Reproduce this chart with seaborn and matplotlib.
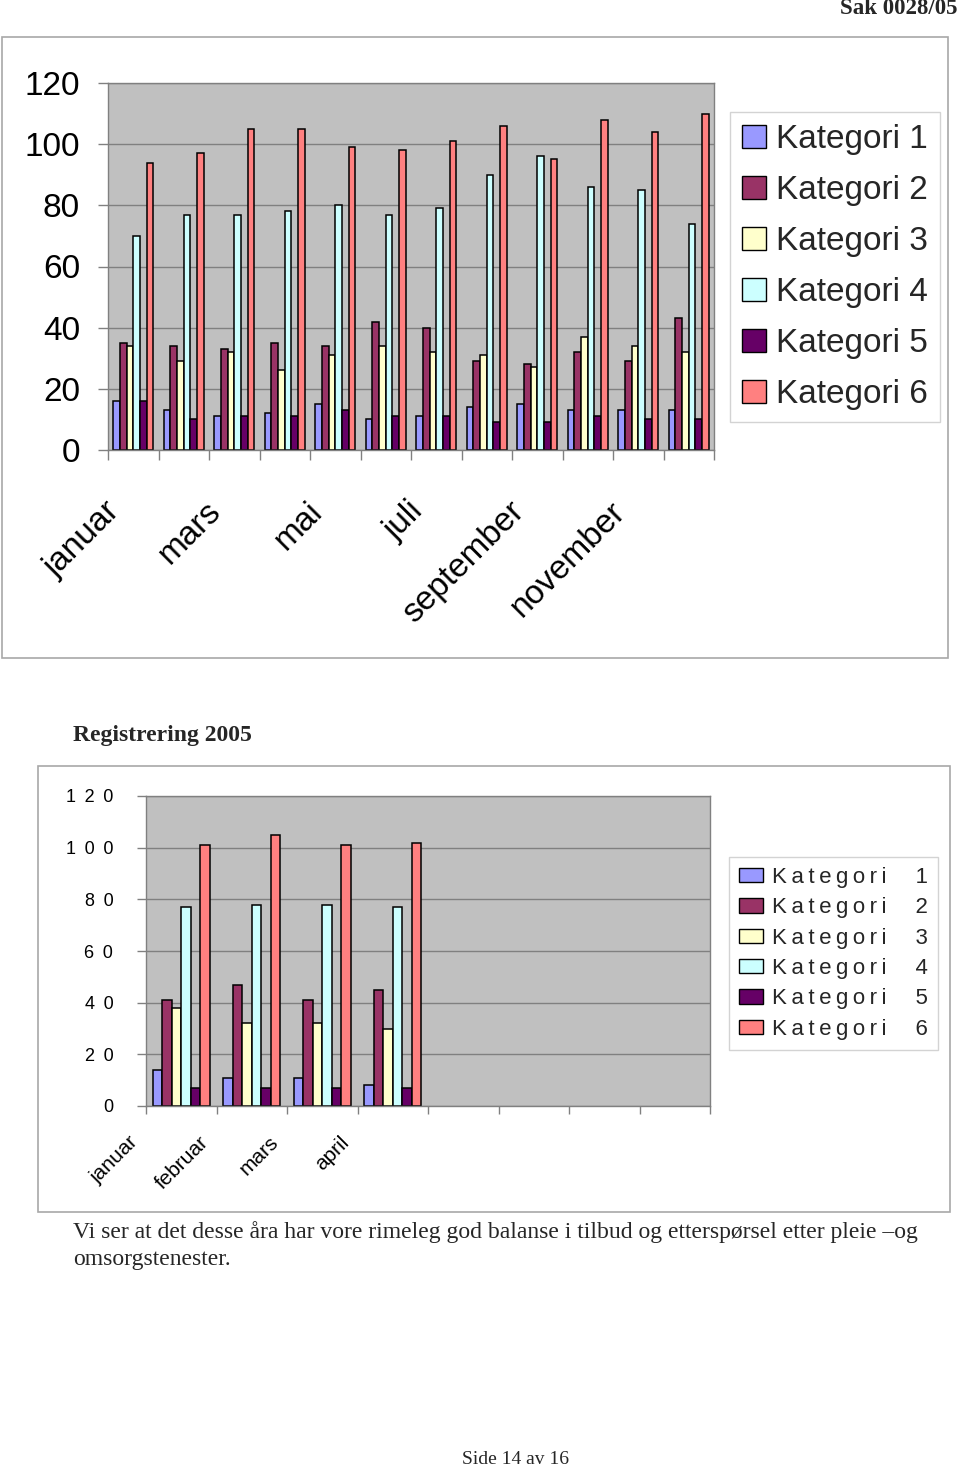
import numpy as np
import pandas as pd
import matplotlib
matplotlib.use("Agg")
import matplotlib.pyplot as plt
import seaborn as sns
from matplotlib.patches import Rectangle
from matplotlib.transforms import ScaledTranslation
from matplotlib.ticker import FuncFormatter

# ---------------- data ----------------
categories = ["Kategori 1", "Kategori 2", "Kategori 3", "Kategori 4", "Kategori 5", "Kategori 6"]
colors = ["#9999FF", "#993366", "#FFFFCC", "#CCFFFF", "#660066", "#FF8080"]

months_all = ["januar", "februar", "mars", "april", "mai", "juni",
              "juli", "august", "september", "oktober", "november", "desember"]
top_k1 = [16, 13, 11, 12, 15, 10, 11, 14, 15, 13, 13, 13]
top_k2 = [35, 34, 33, 35, 34, 42, 40, 29, 28, 32, 29, 43]
top_k3 = [34, 29, 32, 26, 31, 34, 32, 31, 27, 37, 34, 32]
top_k4 = [70, 77, 77, 78, 80, 77, 79, 90, 96, 86, 85, 74]
top_k5 = [16, 10, 11, 11, 13, 11, 11, 9, 9, 11, 10, 10]
top_k6 = [94, 97, 105, 105, 99, 98, 101, 106, 95, 108, 104, 110]

months_2005 = ["januar", "februar", "mars", "april"]
reg_k1 = [14, 11, 11, 8]
reg_k2 = [41, 47, 41, 45]
reg_k3 = [38, 32, 32, 30]
reg_k4 = [77, 78, 78, 77]
reg_k5 = [7, 7, 7, 7]
reg_k6 = [101, 105, 101, 102]

title_2005 = "Registrering 2005"
header = "Sak 0028/05"
caption_1 = "Vi ser at det desse åra har vore rimeleg god balanse i tilbud og etterspørsel etter pleie –og"
caption_2 = "omsorgstenester."
footer = "Side 14 av 16"

top_values = [top_k1, top_k2, top_k3, top_k4, top_k5, top_k6]
reg_values = [reg_k1, reg_k2, reg_k3, reg_k4, reg_k5, reg_k6]

df_top = pd.concat([pd.DataFrame({"måned": months_all, "kategori": c, "verdi": v})
                    for c, v in zip(categories, top_values)], ignore_index=True)
df_reg = pd.concat([pd.DataFrame({"måned": months_2005, "kategori": c, "verdi": v})
                    for c, v in zip(categories, reg_values)], ignore_index=True)

# ---------------- style ----------------
sns.set_theme(style="white")
plt.rcParams['font.family'] = ['Liberation Sans', 'DejaVu Sans']
SANS = ['Liberation Sans', 'DejaVu Sans']
SERIF = ['Liberation Serif', 'DejaVu Serif']

W, H = 960, 1470
fig = plt.figure(figsize=(W / 100, H / 100), dpi=100)
fig.patch.set_facecolor("white")


def fx(px):
    return px / W


def fy(py):
    return 1 - py / H


def rect(l, t, r, b):
    return [fx(l), fy(b), fx(r) - fx(l), fy(t) - fy(b)]


def frame(l, t, r, b):
    fig.add_artist(Rectangle((fx(l), fy(b)), fx(r) - fx(l), fy(t) - fy(b),
                             transform=fig.transFigure, fill=False,
                             edgecolor="#A8A8A8", lw=1.2))


def spaced(s, sep=" "):
    return sep.join(s)


def style_axes(ax, n_slots, ylab_size, ypad, ytick_len, xlab_size, xpad, xshift_px, xtick_len):
    ax.set_facecolor("#C0C0C0")
    ax.set_ylim(0, 120)
    ax.set_yticks(range(0, 121, 20))
    ax.set_xlim(-0.5, n_slots - 0.5)
    ax.yaxis.grid(True, color="#808080", lw=1)
    ax.xaxis.grid(False)
    ax.set_axisbelow(True)
    ax.set_xlabel("")
    ax.set_ylabel("")
    for sp in ax.spines.values():
        sp.set_visible(True)
        sp.set_color("#808080")
        sp.set_linewidth(1)
    ax.set_xticks(np.arange(-0.5, n_slots, 1), minor=True)
    ax.tick_params(axis="x", which="minor", bottom=True, length=xtick_len, width=1,
                   color="#808080", direction="out")
    ax.tick_params(axis="x", which="major", bottom=True, length=0, pad=xpad,
                   labelsize=xlab_size, labelcolor="black")
    ax.tick_params(axis="y", which="major", left=True, length=ytick_len, width=1,
                   color="#808080", direction="out", pad=ypad, labelsize=ylab_size,
                   labelcolor="black")
    off = ScaledTranslation(xshift_px / 100, 0, fig.dpi_scale_trans)
    for lbl in ax.get_xticklabels():
        lbl.set_rotation(45)
        lbl.set_ha("right")
        lbl.set_va("top")
        lbl.set_transform(lbl.get_transform() + off)


# ---------------- top chart ----------------
frame(2, 37, 948, 658)
ax1 = fig.add_axes(rect(108, 83, 714, 450))
sns.barplot(data=df_top, x="måned", y="verdi", hue="kategori", order=months_all,
            hue_order=categories, palette=colors, width=0.79, saturation=1,
            edgecolor="black", linewidth=1.1, errorbar=None, ax=ax1)
ax1.set_xticks(range(0, 12, 2))
ax1.set_xticklabels(months_all[::2])
style_axes(ax1, 12, 24, 13, 7.2, 24, 33, -7, 7.2)

h1, l1 = ax1.get_legend_handles_labels()
ax1.get_legend().remove()
leg1 = fig.legend(h1, l1, loc="upper left", bbox_to_anchor=(fx(730), fy(112)),
                  frameon=True, fancybox=False, fontsize=24, handlelength=0.73,
                  handleheight=0.7, handletextpad=0.3, labelspacing=0.6,
                  borderpad=0.36, borderaxespad=0)
leg1.get_frame().set_edgecolor("#C8C8C8")
leg1.get_frame().set_linewidth(1)
for hnd in leg1.legend_handles:
    hnd.set_edgecolor("black")
    hnd.set_linewidth(1)

# ---------------- bottom chart ----------------
fig.text(fx(73), fy(735), title_2005, ha="left", va="center", fontsize=17,
         fontweight="bold", family=SERIF)
frame(38, 766, 950, 1212)
ax2 = fig.add_axes(rect(146, 796, 710, 1106))
sns.barplot(data=df_reg, x="måned", y="verdi", hue="kategori", order=months_2005,
            hue_order=categories, palette=colors, width=0.81, saturation=1,
            edgecolor="black", linewidth=1.1, errorbar=None, ax=ax2)
ax2.yaxis.set_major_formatter(FuncFormatter(lambda v, p: spaced(str(int(v)), " \u2009")))
style_axes(ax2, 8, 13, 17, 6.5, 15, 19, -40, 5.5)

h2, l2 = ax2.get_legend_handles_labels()
ax2.get_legend().remove()
l2_disp = []
for lab in l2:
    name, num = lab.rsplit(" ", 1)
    l2_disp.append(spaced(name, "\u2009") + "\u2009" + " " * 4 + num)
leg2 = fig.legend(h2, l2_disp, loc="upper left", bbox_to_anchor=(fx(729), fy(857)),
                  frameon=True, fancybox=False,
                  prop={"family": SANS, "size": 16},
                  handlelength=1.1, handleheight=0.6, handletextpad=0.4,
                  labelspacing=0.42, borderpad=0.45, borderaxespad=0)
leg2.get_frame().set_edgecolor("#C8C8C8")
leg2.get_frame().set_linewidth(1)
for hnd in leg2.legend_handles:
    hnd.set_edgecolor("black")
    hnd.set_linewidth(1)

# ---------------- document text ----------------
fig.text(fx(958), fy(9), header, ha="right", va="center", fontsize=16.5,
         fontweight="bold", family=SERIF)
fig.text(fx(73), fy(1232), caption_1, ha="left", va="center", fontsize=17, family=SERIF)
fig.text(fx(73), fy(1260), caption_2, ha="left", va="center", fontsize=17, family=SERIF)
fig.text(fx(515), fy(1460), footer, ha="center", va="center", fontsize=14, family=SERIF)

fig.savefig("out.png", dpi=100, facecolor="white")
